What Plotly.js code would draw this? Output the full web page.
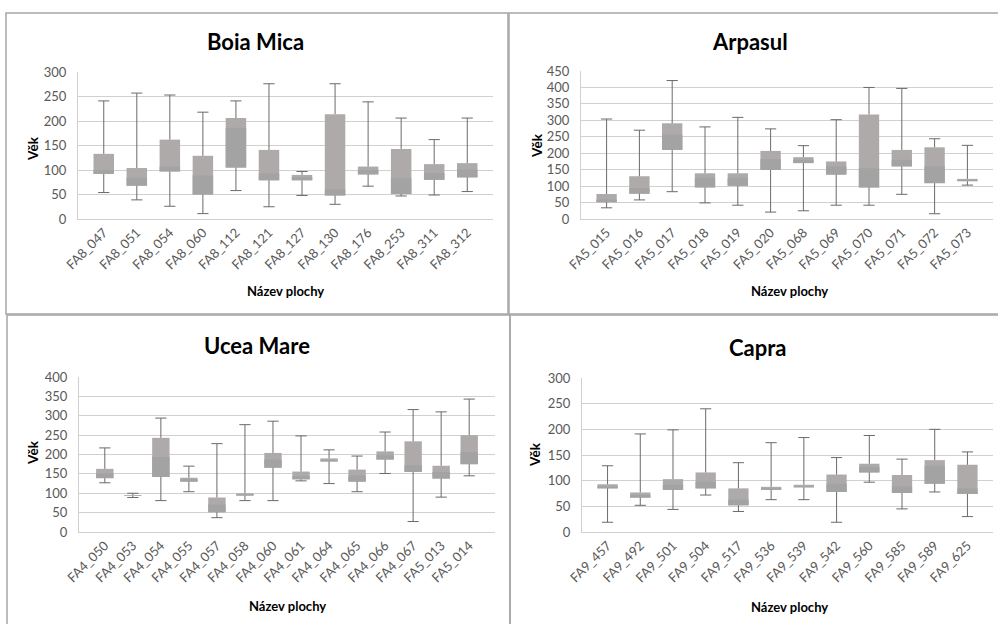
<!DOCTYPE html>
<html>
<head>
<meta charset="utf-8">
<script src="https://cdn.plot.ly/plotly-3.0.1.min.js"></script>
<style>
html,body{margin:0;padding:0;background:#fff;}
#chart{width:998px;height:624px;}
</style>
</head>
<body>
<div id="chart"></div>
<script>
// ---- Data ----
var boiaCats = ['FA8_047','FA8_051','FA8_054','FA8_060','FA8_112','FA8_121','FA8_127','FA8_130','FA8_176','FA8_253','FA8_311','FA8_312'];
var boiaMin  = [54, 39, 26, 11, 58, 25, 48, 30, 67, 47, 49, 56];
var boiaQ1   = [92, 68, 97, 50, 105, 79, 79, 48, 91, 51, 80, 85];
var boiaMed  = [100, 84, 107, 89, 186, 93, 85, 60, 100, 83, 94, 101];
var boiaQ3   = [133, 104, 162, 129, 206, 141, 90, 214, 107, 143, 112, 114];
var boiaMax  = [241, 257, 253, 218, 241, 276, 97, 276, 239, 206, 162, 206];

var arpCats = ['FA5_015','FA5_016','FA5_017','FA5_018','FA5_019','FA5_020','FA5_068','FA5_069','FA5_070','FA5_071','FA5_072','FA5_073'];
var arpMin  = [34, 58, 83, 49, 42, 21, 25, 42, 42, 75, 16, 103];
var arpQ1   = [51, 77, 210, 96, 101, 149, 170, 135, 96, 160, 109, 115];
var arpMed  = [59, 94, 256, 124, 124, 182, 180, 160, 154, 180, 160, 118];
var arpQ3   = [76, 130, 291, 139, 139, 207, 188, 175, 318, 210, 218, 122];
var arpMax  = [304, 270, 421, 280, 309, 274, 223, 302, 400, 397, 244, 224];

var uceaCats = ['FA4_050','FA4_053','FA4_054','FA4_055','FA4_057','FA4_058','FA4_060','FA4_061','FA4_064','FA4_065','FA4_066','FA4_067','FA5_013','FA5_014'];
var uceaMin  = [127, 89, 81, 104, 37, 81, 81, 132, 125, 104, 151, 27, 90, 145];
var uceaQ1   = [139, 93, 142, 130, 51, 94, 166, 136, 182, 130, 187, 155, 138, 175];
var uceaMed  = [151, 94, 194, 136, 71, 97, 187, 144, 186, 146, 198, 172, 155, 206];
var uceaQ3   = [163, 95, 243, 140, 89, 100, 204, 156, 190, 161, 208, 234, 171, 250];
var uceaMax  = [217, 100, 294, 170, 228, 277, 286, 248, 212, 196, 258, 316, 310, 343];

var capraCats = ['FA9_457','FA9_492','FA9_501','FA9_504','FA9_517','FA9_536','FA9_539','FA9_542','FA9_560','FA9_585','FA9_589','FA9_625'];
var capraMin  = [19, 52, 44, 72, 40, 63, 63, 19, 97, 45, 78, 30];
var capraQ1   = [85, 67, 82, 85, 52, 82, 87, 78, 116, 76, 94, 74];
var capraMed  = [89, 72, 92, 98, 63, 85, 89, 94, 127, 89, 129, 85];
var capraQ3   = [93, 77, 103, 116, 85, 88, 92, 112, 133, 111, 140, 131];
var capraMax  = [129, 191, 199, 240, 135, 174, 184, 145, 188, 142, 200, 156];

var panelTitles = ['Boia Mica', 'Arpasul', 'Ucea Mare', 'Capra'];
var yTitle = 'Věk';
var xTitle = 'Název plochy';

// ---- Build ----
var W = 998, H = 624;
var FONT = 'Lato, "Open Sans", sans-serif';
var WHISK = '#6a6a6a';
var panels = [
  {cats: boiaCats, mn: boiaMin, q1: boiaQ1, md: boiaMed, q3: boiaQ3, mx: boiaMax, ymax: 300,
   px: [78, 493], py: [72, 219], title: [256, 42], ytl: [33, 149], xtl: [285, 291], border: [6, 13, 508, 314]},
  {cats: arpCats, mn: arpMin, q1: arpQ1, md: arpMed, q3: arpQ3, mx: arpMax, ymax: 450,
   px: [581, 993], py: [71, 219], title: [750, 42], ytl: [537, 146], xtl: [789, 291], border: [509, 13, 1015, 314]},
  {cats: uceaCats, mn: uceaMin, q1: uceaQ1, md: uceaMed, q3: uceaQ3, mx: uceaMax, ymax: 400,
   px: [79, 495], py: [377, 532], title: [257, 345], ytl: [33, 453], xtl: [287, 606], border: [7, 315, 510, 640]},
  {cats: capraCats, mn: capraMin, q1: capraQ1, md: capraMed, q3: capraQ3, mx: capraMax, ymax: 300,
   px: [582, 993], py: [378, 532], title: [757, 347], ytl: [535, 455], xtl: [789, 607], border: [510, 315, 1015, 640]}
];

var data = [];
var layout = {
  width: W, height: H,
  margin: {l: 0, r: 0, t: 0, b: 0},
  paper_bgcolor: '#ffffff', plot_bgcolor: '#ffffff',
  showlegend: false,
  barmode: 'overlay',
  bargap: 0.38,
  font: {family: FONT, color: '#595959', size: 12},
  annotations: [], shapes: []
};

function sub(a, b) { return a.map(function (v, i) { return v - b[i]; }); }
// build segmented line coordinates: cat,cat,null for each category
function segX(cats) { var r = []; cats.forEach(function (c) { r.push(c, c, null); }); return r; }
function segY(a, b) { var r = []; a.forEach(function (v, i) { r.push(v, b[i], null); }); return r; }

panels.forEach(function (p, k) {
  var sfx = k === 0 ? '' : String(k + 1);
  var xa = 'x' + sfx, ya = 'y' + sfx;
  // full box Q1 -> Q3 (upper colour)
  data.push({type: 'bar', x: p.cats, y: sub(p.q3, p.q1), base: p.q1, xaxis: xa, yaxis: ya,
    marker: {color: '#aeaaaa', line: {width: 0}}, hoverinfo: 'skip'});
  // lower box segment (Q1 -> median), darker
  data.push({type: 'bar', x: p.cats, y: sub(p.md, p.q1), base: p.q1, xaxis: xa, yaxis: ya,
    marker: {color: '#a3a3a3', line: {width: 0}}, hoverinfo: 'skip'});
  // whisker stems Q3 -> max and Q1 -> min
  data.push({type: 'scatter', mode: 'lines', x: segX(p.cats), y: segY(p.q3, p.mx), xaxis: xa, yaxis: ya,
    line: {color: WHISK, width: 1}, connectgaps: false, hoverinfo: 'skip'});
  data.push({type: 'scatter', mode: 'lines', x: segX(p.cats), y: segY(p.q1, p.mn), xaxis: xa, yaxis: ya,
    line: {color: WHISK, width: 1}, connectgaps: false, hoverinfo: 'skip'});
  // whisker caps at max and min
  data.push({type: 'scatter', mode: 'markers', x: p.cats.concat(p.cats), y: p.mx.concat(p.mn), xaxis: xa, yaxis: ya,
    marker: {symbol: 'line-ew', size: 8, color: WHISK, line: {color: WHISK, width: 1}}, hoverinfo: 'skip'});

  layout['xaxis' + sfx] = {
    domain: [p.px[0] / W, p.px[1] / W], anchor: ya,
    type: 'category', tickangle: -45, ticks: '', showgrid: false,
    showline: true, linecolor: '#d0d0d0', linewidth: 1,
    tickfont: {family: FONT, size: 13, color: '#595959'}, fixedrange: true
  };
  layout['yaxis' + sfx] = {
    domain: [1 - p.py[1] / H, 1 - p.py[0] / H], anchor: xa,
    range: [0, p.ymax], dtick: 50, ticks: '', showgrid: true, gridcolor: '#d0d0d0', gridwidth: 1,
    showline: true, linecolor: '#d0d0d0', linewidth: 1, zeroline: false,
    tickfont: {family: FONT, size: 13, color: '#595959'}, ticklabelstandoff: 8, fixedrange: true
  };
  layout.annotations.push({text: '<b>' + panelTitles[k] + '</b>', xref: 'paper', yref: 'paper',
    x: p.title[0] / W, y: 1 - p.title[1] / H, xanchor: 'center', yanchor: 'middle', showarrow: false,
    font: {family: FONT, size: 22, color: '#000000'}});
  layout.annotations.push({text: '<b>' + yTitle + '</b>', xref: 'paper', yref: 'paper', textangle: -90,
    x: p.ytl[0] / W, y: 1 - p.ytl[1] / H, xanchor: 'center', yanchor: 'middle', showarrow: false,
    font: {family: FONT, size: 13.5, color: '#000000'}});
  layout.annotations.push({text: '<b>' + xTitle + '</b>', xref: 'paper', yref: 'paper',
    x: p.xtl[0] / W, y: 1 - p.xtl[1] / H, xanchor: 'center', yanchor: 'middle', showarrow: false,
    font: {family: FONT, size: 13, color: '#000000'}});
  var b = p.border;
  layout.shapes.push({type: 'rect', xref: 'paper', yref: 'paper',
    x0: b[0] / W, x1: b[2] / W, y0: 1 - b[3] / H, y1: 1 - b[1] / H,
    line: {color: '#a6a6a6', width: 1.5}, fillcolor: 'rgba(0,0,0,0)', layer: 'below'});
});

Plotly.newPlot('chart', data, layout, {displayModeBar: false, staticPlot: true});
</script>
</body>
</html>
